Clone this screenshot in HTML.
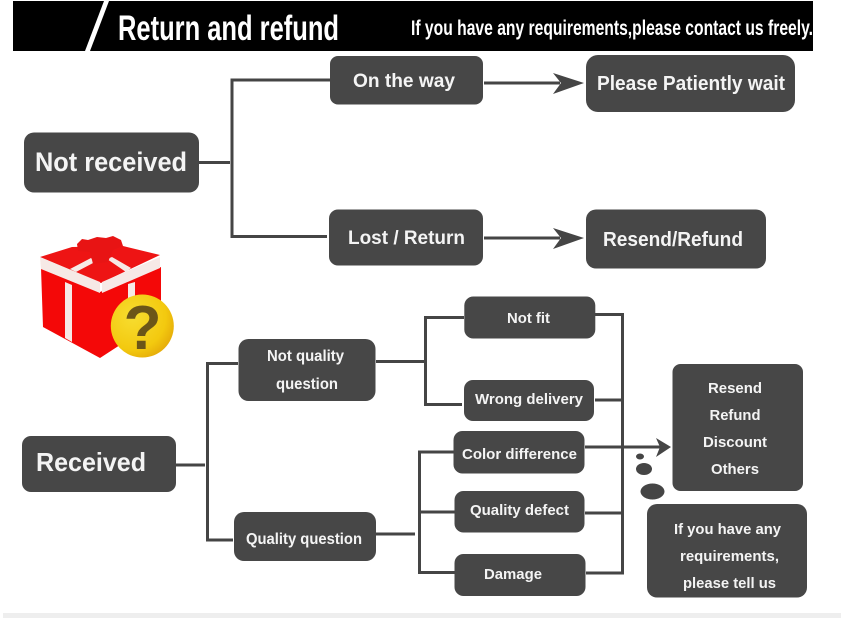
<!DOCTYPE html>
<html lang="en">
<head>
<meta charset="utf-8">
<title>Return and refund</title>
<style>
html,body{margin:0;padding:0;background:#fff;width:841px;height:618px;overflow:hidden}
svg{display:block}
text{font-family:"Liberation Sans",Arial,sans-serif;font-weight:bold;fill:#f4f4f4}
.b{fill:#474747}
.l{stroke:#454545;stroke-width:3;fill:none}
</style>
</head>
<body>
<svg width="841" height="618" viewBox="0 0 841 618" xmlns="http://www.w3.org/2000/svg">
<defs>
<radialGradient id="g" cx="35%" cy="35%" r="75%"><stop offset="0" stop-color="#f7dd30"/><stop offset="0.7" stop-color="#f3c90f"/><stop offset="1" stop-color="#e3a708"/></radialGradient>
</defs>
<rect x="3" y="613" width="838" height="5" fill="#eeeeee"/>
<!-- header -->
<rect x="13" y="1" width="800" height="50" fill="#000"/>
<polygon points="85,51 90,51 109,1 104,1" fill="#fff"/>
<text x="118" y="40" font-size="35" textLength="221" lengthAdjust="spacingAndGlyphs" style="fill:#fff">Return and refund</text>
<text x="411" y="35" font-size="21" textLength="402" lengthAdjust="spacingAndGlyphs" style="fill:#fff">If you have any requirements,please contact us freely.</text>

<!-- connectors top -->
<path class="l" d="M199 162.5H230M330 80H232V236.5H327"/>
<path class="l" d="M484 83H560M484 238H560"/>
<polygon points="553,73 584,83 553,94 561,83" fill="#454545"/>
<polygon points="553,228 584,238 553,249 561,238" fill="#454545"/>

<!-- connectors bottom -->
<path class="l" d="M176 465H205M238 363.5H207.5V540H233"/>
<path class="l" d="M376 361.5H424M464 317.5H425.5V404.5H462"/>
<path class="l" d="M376 534H415M454 452H419.5V572.5H455M419.5 512H455"/>
<path class="l" d="M595 314.5H622.5V573H586M595 400H622.5M585 513H622.5"/>
<path class="l" d="M585 447H662"/>
<polygon points="656,438 671,447 656,457 660,447" fill="#454545"/>

<!-- boxes -->
<rect class="b" x="24" y="132.5" width="175" height="60" rx="10"/>
<text x="35" y="171" font-size="27" textLength="152" lengthAdjust="spacingAndGlyphs">Not received</text>
<rect class="b" x="330" y="56" width="153" height="48.5" rx="8"/>
<text x="353" y="87" font-size="19" textLength="102" lengthAdjust="spacingAndGlyphs">On the way</text>
<rect class="b" x="329" y="209.5" width="154" height="56" rx="9"/>
<text x="348" y="244" font-size="19" textLength="117" lengthAdjust="spacingAndGlyphs">Lost / Return</text>
<rect class="b" x="586" y="55" width="209" height="57" rx="12"/>
<text x="597" y="90" font-size="20" textLength="188" lengthAdjust="spacingAndGlyphs">Please Patiently wait</text>
<rect class="b" x="586" y="209.5" width="180" height="59" rx="10"/>
<text x="603" y="246" font-size="20" textLength="140" lengthAdjust="spacingAndGlyphs">Resend/Refund</text>

<rect class="b" x="238.5" y="339" width="137" height="62" rx="10"/>
<text x="267" y="361" font-size="16" textLength="77" lengthAdjust="spacingAndGlyphs">Not quality</text>
<text x="276" y="389" font-size="16" textLength="62" lengthAdjust="spacingAndGlyphs">question</text>
<rect class="b" x="22" y="436" width="154" height="56" rx="9"/>
<text x="36" y="471" font-size="26" textLength="110" lengthAdjust="spacingAndGlyphs">Received</text>
<rect class="b" x="234" y="512" width="142" height="49" rx="10"/>
<text x="246" y="544" font-size="16" textLength="116" lengthAdjust="spacingAndGlyphs">Quality question</text>

<rect class="b" x="464.3" y="296.5" width="131" height="42" rx="9"/>
<text x="507" y="323" font-size="15" textLength="43" lengthAdjust="spacingAndGlyphs">Not fit</text>
<rect class="b" x="464" y="380" width="130" height="41" rx="9"/>
<text x="475" y="404" font-size="15" textLength="108" lengthAdjust="spacingAndGlyphs">Wrong delivery</text>
<rect class="b" x="453.5" y="431" width="131" height="42.5" rx="9"/>
<text x="462" y="459" font-size="15" textLength="115" lengthAdjust="spacingAndGlyphs">Color difference</text>
<rect class="b" x="454.5" y="491" width="130" height="41.5" rx="9"/>
<text x="470" y="515" font-size="15" textLength="99" lengthAdjust="spacingAndGlyphs">Quality defect</text>
<rect class="b" x="454.5" y="554" width="131" height="42" rx="9"/>
<text x="484" y="579" font-size="15" textLength="58" lengthAdjust="spacingAndGlyphs">Damage</text>

<rect class="b" x="672.5" y="364" width="130.5" height="127" rx="8"/>
<text x="708" y="393" font-size="15" textLength="54" lengthAdjust="spacingAndGlyphs">Resend</text>
<text x="709.5" y="420" font-size="15" textLength="51" lengthAdjust="spacingAndGlyphs">Refund</text>
<text x="703" y="447" font-size="15" textLength="64" lengthAdjust="spacingAndGlyphs">Discount</text>
<text x="711" y="474" font-size="15" textLength="48" lengthAdjust="spacingAndGlyphs">Others</text>

<rect class="b" x="647" y="504" width="160" height="93.5" rx="10"/>
<text x="674" y="534" font-size="15" textLength="107" lengthAdjust="spacingAndGlyphs">If you have any</text>
<text x="680" y="561" font-size="15" textLength="99" lengthAdjust="spacingAndGlyphs">requirements,</text>
<text x="683" y="588" font-size="15" textLength="93" lengthAdjust="spacingAndGlyphs">please tell us</text>

<!-- bubbles -->
<ellipse cx="640" cy="456.5" rx="4" ry="3" fill="#454545"/>
<ellipse cx="644" cy="469" rx="8" ry="6" fill="#454545"/>
<ellipse cx="652.5" cy="491.5" rx="12" ry="8" fill="#454545"/>

<!-- gift -->
<polygon points="40,257 72,247 123,246 160,255 101,283" fill="#ee1414"/>
<polygon points="41,268 100,292 161,267 161,310 120,345 100,358 43,327" fill="#f40808"/>
<polygon points="40,257 100,282 100,293 41,269" fill="#f6e9e6"/>
<polygon points="160,257 102,282 102,293 160,268" fill="#f6e9e6"/>
<polygon points="65,282 72,285 72,342 65,338" fill="#f6e9e6"/>
<polygon points="128,284 135,282 135,298 128,298" fill="#f6e9e6"/>
<polygon points="70,269 91,258 95,262 76,272" fill="#f6e9e6"/>
<polygon points="107,259 112,257 131,268 126,272" fill="#f6e9e6"/>
<path d="M77 244 L82 239 L88 240 L97 237 L106 238 L113 236 L121 240 L123 246 L113 250 L108 262 L93 264 L90 252 L78 251Z" fill="#e81414"/>
<circle cx="142.3" cy="326" r="31.5" fill="url(#g)"/>
<text x="142.5" y="349" font-size="62" text-anchor="middle" style="fill:#6b5518">?</text>
</svg>
</body>
</html>
